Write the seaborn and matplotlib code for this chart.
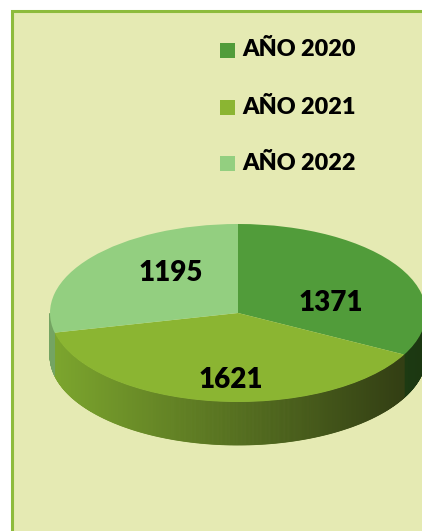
import numpy as np
import matplotlib
matplotlib.use("Agg")
import matplotlib.pyplot as plt
from matplotlib.patches import Rectangle
from matplotlib.colors import to_rgb
import seaborn as sns

# ---- data ----
categories = ["AÑO 2020", "AÑO 2021", "AÑO 2022"]
values = [1371, 1621, 1195]
top_colors = ["#519C3A", "#8BB532", "#93CF80"]
side_left = ["#3C6E2A", "#7DA72E", "#74A462"]
side_right = ["#1B3711", "#2E3812", "#5E8A4E"]

sns.set_theme(style="white")
plt.rcParams["font.family"] = ["Lato", "DejaVu Sans"]

W, H = 422, 531
fig = plt.figure(figsize=(W / 100, H / 100), dpi=100, facecolor="white")

# panel background with green border
fig.patches.append(Rectangle((12 / W, -0.1), 1.2, 1.1 - 11 / H,
                             transform=fig.transFigure, facecolor="#E5EAB3",
                             edgecolor="#8DBB3C", linewidth=2.2, zorder=-5))

ax = fig.add_axes([0, 0, 1, 1])
ax.set_facecolor("none")
ax.patch.set_visible(False)

# ellipse geometry in pixels (center, semi-axes, depth)
cx, cy, a, b, depth = 238, 313, 188, 89, 43
d = depth / b

# side walls (front half) drawn beneath the top face
total = float(sum(values))
start = 90.0
for i, v in enumerate(values):
    end = start - 360.0 * v / total
    ts = np.linspace(end, start, 400)
    cl, cr = np.array(to_rgb(side_left[i])), np.array(to_rgb(side_right[i]))
    for t0, t1 in zip(ts[:-1], ts[1:]):
        tm = (0.5 * (t0 + t1)) % 360
        if not (180 <= tm <= 360):
            continue
        r0, r1 = np.radians(t0), np.radians(t1)
        xs = [np.cos(r0), np.cos(r1), np.cos(r1), np.cos(r0)]
        ys = [np.sin(r0), np.sin(r1), np.sin(r1) - d, np.sin(r0) - d]
        xm = np.cos(np.radians(tm))
        f = (xm + 1) / 2
        c = cl * (1 - f) + cr * f
        ax.fill(xs, ys, color=c, linewidth=0.6, edgecolor=c, zorder=1)
    start = end

wedges, _ = ax.pie(values, colors=top_colors, startangle=90,
                   counterclock=False, radius=1,
                   wedgeprops=dict(linewidth=0))
for w in wedges:
    w.set_zorder(2)

ax.set_aspect("auto")
ax.set_xlim(-cx / a, (W - cx) / a)
ax.set_ylim(-(H - cy) / b, cy / b)
ax.axis("off")

# value labels
label_pos = [(331, 303), (231, 380), (171, 273)]
for (px, py), v in zip(label_pos, values):
    fig.text(px / W, 1 - py / H, f"{v}", ha="center", va="center",
             fontsize=20, fontweight="heavy", color="black", zorder=5)

# legend
leg_y = [50, 107, 163]
for yc, lab, col in zip(leg_y, categories, top_colors):
    fig.patches.append(Rectangle((220 / W, 1 - (yc + 7.5) / H), 15 / W, 15 / H,
                                 transform=fig.transFigure, facecolor=col,
                                 edgecolor="none", zorder=3))
    fig.text(242 / W, 1 - yc / H, lab, ha="left", va="center",
             fontsize=16.8, fontweight="heavy", color="black")

fig.savefig("out.png", dpi=100, facecolor="white")
